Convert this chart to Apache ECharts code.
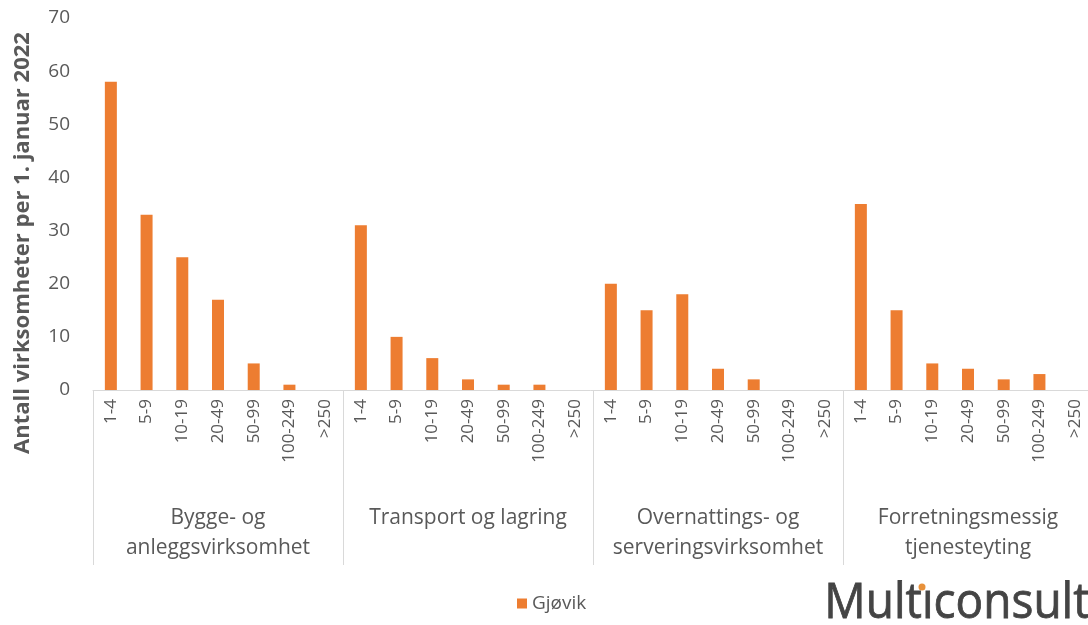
<!DOCTYPE html>
<html>
<head>
<meta charset="utf-8">
<script src="https://cdn.jsdelivr.net/npm/echarts@6/dist/echarts.min.js"></script>
<style>
  html, body { margin: 0; padding: 0; background: #fff; }
  #chart { width: 1088px; height: 625px; }
</style>
</head>
<body>
<div id="chart"></div>
<script>
// Size classes (number of employees) repeated in every industry group
const sizeClasses = ['1-4', '5-9', '10-19', '20-49', '50-99', '100-249', '>250'];
const industries = [
  'Bygge- og\nanleggsvirksomhet',
  'Transport og lagring',
  'Overnattings- og\nserveringsvirksomhet',
  'Forretningsmessig\ntjenesteyting'
];
// Number of businesses in Gjøvik per size class, one array per industry
const bygg = [58, 33, 25, 17, 5, 1, 0];
const transport = [31, 10, 6, 2, 1, 1, 0];
const overnatting = [20, 15, 18, 4, 2, 0, 0];
const forretning = [35, 15, 5, 4, 2, 3, 0];
const yTicks = { min: 0, max: 70, interval: 10 };
const seriesName = 'Gjøvik';
const yTitle = 'Antall virksomheter per 1. januar 2022';

const groups = [bygg, transport, overnatting, forretning];
const flatCategories = [];
const flatValues = [];
groups.forEach(g => {
  sizeClasses.forEach((c, i) => {
    flatCategories.push(c);
    flatValues.push(g[i]);
  });
});

const textGray = '#595959';
const lineGray = '#d9d9d9';
const font = 'Open Sans';

const chart = echarts.init(document.getElementById('chart'), null, { renderer: 'canvas' });
chart.setOption({
  animation: false,
  backgroundColor: '#fff',
  textStyle: { fontFamily: font },
  grid: { left: 93, top: 18, width: 1000, bottom: 235, outerBoundsMode: 'none', containLabel: false },
  legend: {
    data: [seriesName],
    left: 512,
    top: 589,
    icon: 'rect',
    itemWidth: 10,
    itemHeight: 10,
    itemGap: 5,
    textStyle: { color: textGray, fontSize: 19, fontFamily: font }
  },
  xAxis: [
    {
      type: 'category',
      data: flatCategories,
      position: 'bottom',
      axisLine: { lineStyle: { color: lineGray, width: 1 } },
      axisTick: { show: false },
      axisLabel: {
        interval: 0,
        rotate: 90,
        margin: 9,
        color: textGray,
        fontSize: 17,
        fontFamily: font
      }
    },
    {
      type: 'category',
      data: industries,
      position: 'bottom',
      axisLine: { show: false },
      axisTick: {
        show: true,
        interval: 0,
        length: 175,
        inside: false,
        lineStyle: { color: lineGray, width: 1 }
      },
      axisLabel: {
        interval: 0,
        margin: 113,
        color: textGray,
        fontSize: 21,
        lineHeight: 30,
        fontFamily: font
      }
    }
  ],
  yAxis: {
    type: 'value',
    min: yTicks.min,
    max: yTicks.max,
    interval: yTicks.interval,
    splitLine: { show: false },
    axisLine: { show: false },
    axisTick: { show: false },
    axisLabel: { color: textGray, fontSize: 19, margin: 23, fontFamily: font }
  },
  series: [
    {
      name: seriesName,
      type: 'bar',
      xAxisIndex: 0,
      data: flatValues,
      barWidth: 12,
      itemStyle: { color: '#ED7D31' }
    }
  ],
  graphic: [
    {
      // value axis title, rotated to read bottom-to-top
      type: 'text',
      x: 23,
      y: 243,
      rotation: Math.PI / 2,
      style: {
        text: yTitle,
        align: 'center',
        verticalAlign: 'middle',
        font: 'bold 22px "Open Sans"',
        fill: textGray
      }
    },
    {
      type: 'text',
      left: 824,
      top: 578,
      scaleX: 0.92,
      style: {
        text: 'Mult\u0131consult',
        font: '50px "Open Sans"',
        fill: '#444444',
        stroke: '#444444',
        lineWidth: 0.8
      }
    },
    {
      type: 'circle',
      shape: { cx: 922, cy: 587, r: 3.5 },
      style: { fill: '#E8913A' }
    }
  ]
});
</script>
</body>
</html>
